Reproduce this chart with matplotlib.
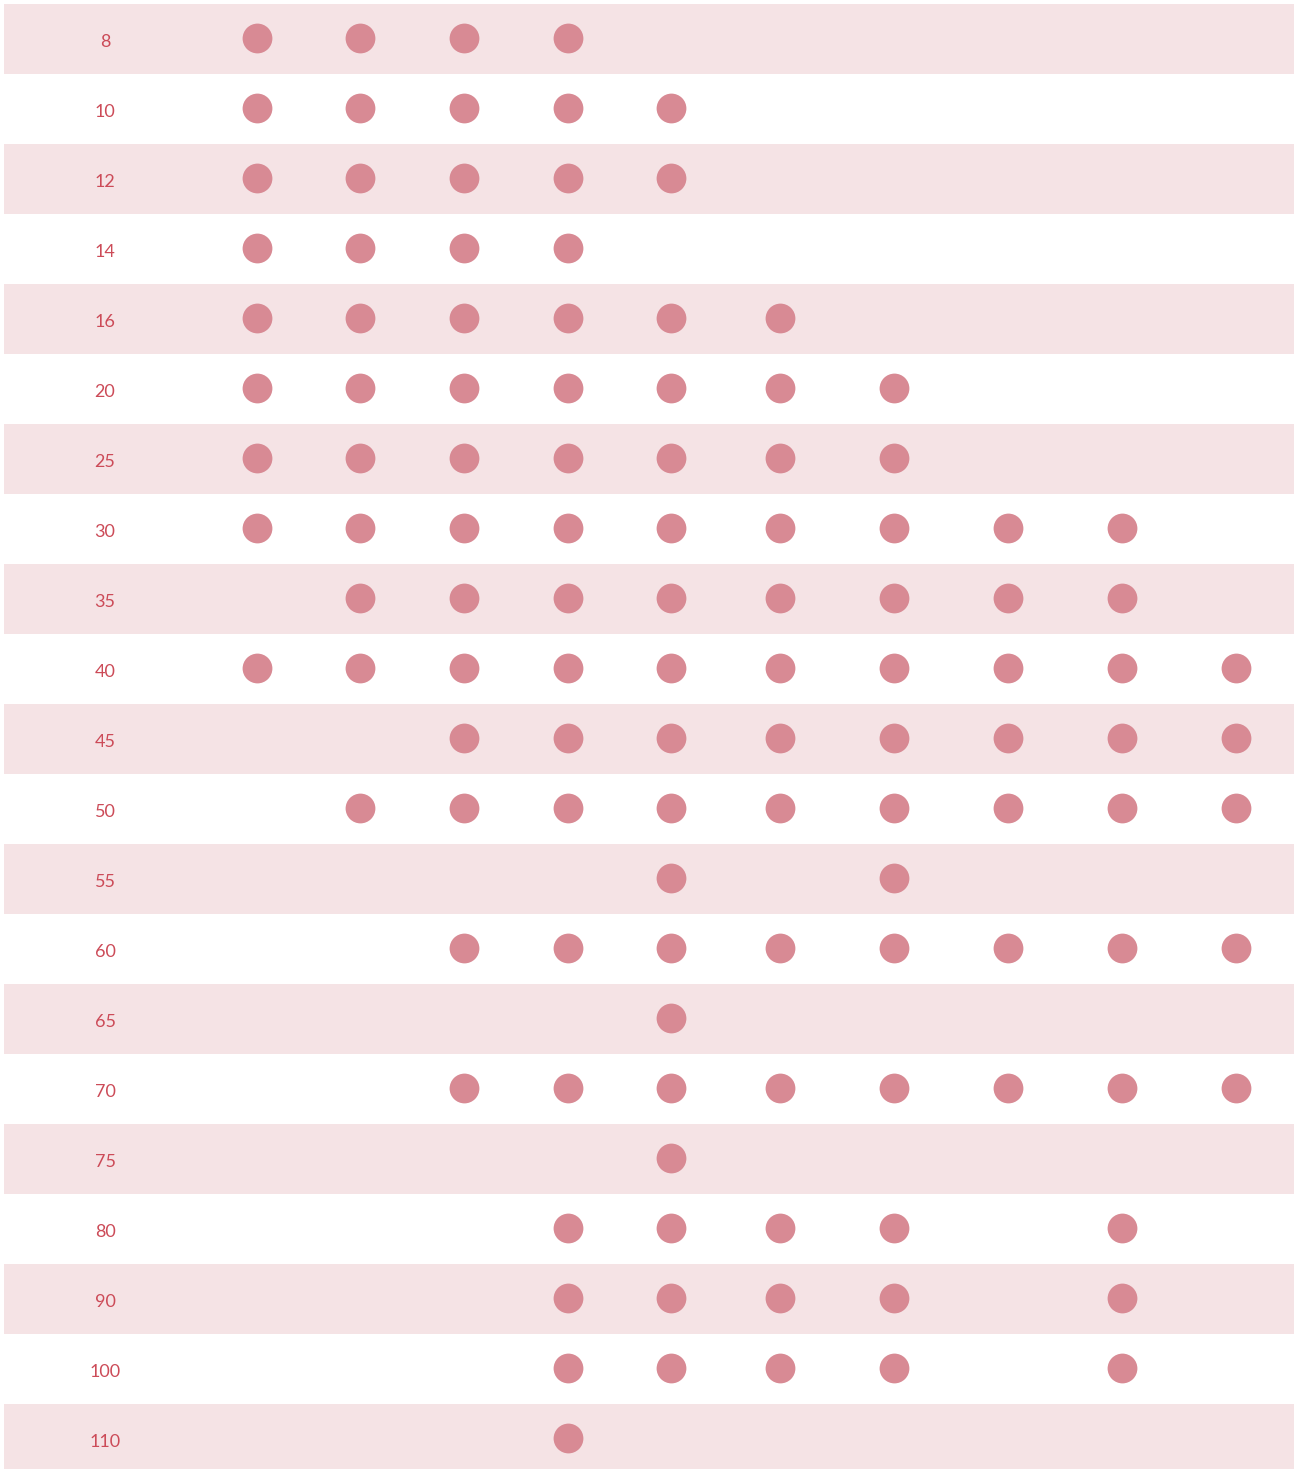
import matplotlib
matplotlib.use("AGG")
import matplotlib.pyplot as plt

# row labels and which columns (0-9) carry a dot
row_labels = ["8", "10", "12", "14", "16", "20", "25", "30", "35", "40", "45",
              "50", "55", "60", "65", "70", "75", "80", "90", "100", "110"]
row_dots = [
    [0, 1, 2, 3],
    [0, 1, 2, 3, 4],
    [0, 1, 2, 3, 4],
    [0, 1, 2, 3],
    [0, 1, 2, 3, 4, 5],
    [0, 1, 2, 3, 4, 5, 6],
    [0, 1, 2, 3, 4, 5, 6],
    [0, 1, 2, 3, 4, 5, 6, 7, 8],
    [1, 2, 3, 4, 5, 6, 7, 8],
    [0, 1, 2, 3, 4, 5, 6, 7, 8, 9],
    [2, 3, 4, 5, 6, 7, 8, 9],
    [1, 2, 3, 4, 5, 6, 7, 8, 9],
    [4, 6],
    [2, 3, 4, 5, 6, 7, 8, 9],
    [4],
    [2, 3, 4, 5, 6, 7, 8, 9],
    [4],
    [3, 4, 5, 6, 8],
    [3, 4, 5, 6, 8],
    [3, 4, 5, 6, 8],
    [3],
]

# layout (pixel space)
col_x = [257, 360, 464, 568, 671, 780, 894, 1008, 1122, 1236]
row_h = 70
top = 4
label_x = 104

band_color = "#f5e3e5"
dot_color = "#d88a94"
text_color = "#cc4b58"

fig = plt.figure(figsize=(12.96, 14.69), dpi=100)
ax = fig.add_axes([0, 0, 1, 1])
ax.set_xlim(0, 1296)
ax.set_ylim(1469, 0)
ax.axis("off")

for i, label in enumerate(row_labels):
    y0 = top + i * row_h
    yc = y0 + row_h / 2
    if i % 2 == 0:
        ax.add_patch(plt.Rectangle((4, y0), 1290, row_h, color=band_color, lw=0, zorder=0))
    ax.text(label_x + 1, yc + 3, label, ha="center", va="center", fontsize=13,
            color=text_color, family=["Lato", "DejaVu Sans"])
    xs = [col_x[c] for c in row_dots[i]]
    ax.scatter(xs, [yc - 1] * len(xs), s=460, color=dot_color, linewidths=0, zorder=2)

fig.savefig("out.png", dpi=100)
